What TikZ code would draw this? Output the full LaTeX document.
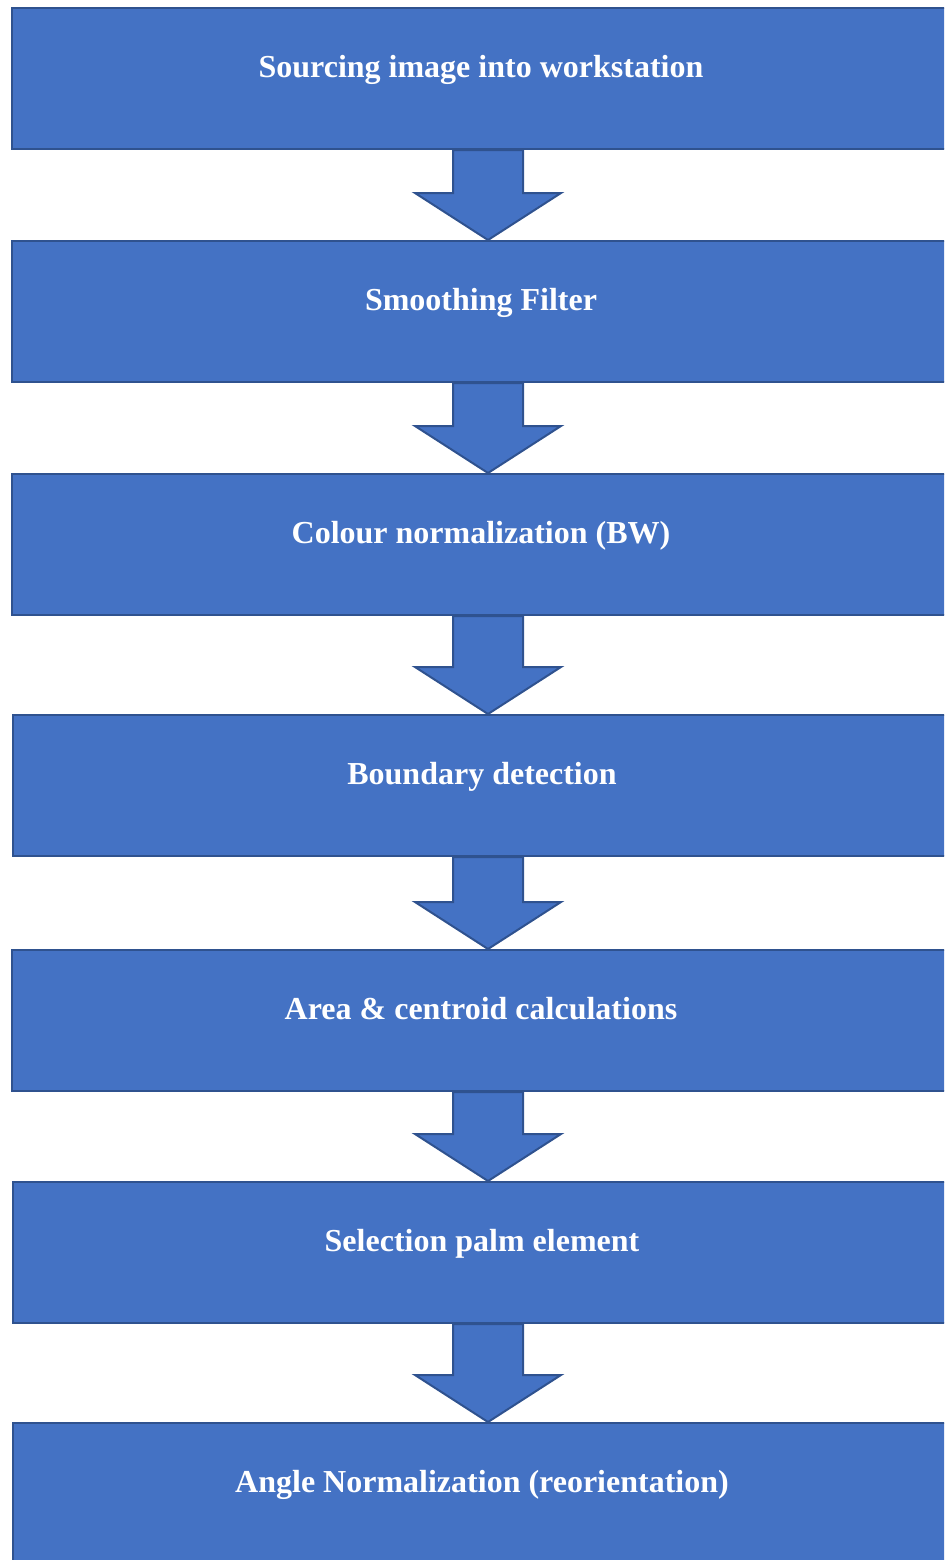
\documentclass[tikz,border=0pt]{standalone}
\usepackage{fontspec}
\setmainfont{Liberation Serif}
\usepackage{tikz}
\usetikzlibrary{calc, backgrounds}
\definecolor{boxblue}{HTML}{4472C4}
\definecolor{edgeblue}{HTML}{2F528F}

\begin{document}
\begin{tikzpicture}[x=0.5pt, y=-0.5pt,
    stage/.style={rectangle, draw=edgeblue, fill=boxblue, line width=1pt,
      minimum width=469pt, minimum height=70.5pt, inner sep=0pt, text=white,
      font=\fontsize{16}{19}\selectfont\bfseries, text height=10pt, text depth=11.5pt},
    blockarrow/.style={draw=edgeblue, fill=boxblue, line width=1pt, line join=miter}]
    \useasboundingbox (0,0) rectangle (944,1560);
    \clip (0,0) rectangle (944,1560);
    \node (source)    at (481,78.5)   [stage] {Sourcing image into workstation};
    \node (smooth)    at (481,311.5)  [stage] {Smoothing Filter};
    \node (colour)    at (481,544.5)  [stage] {Colour normalization (BW)};
    \node (boundary)  at (482,785.5)  [stage] {Boundary detection};
    \node (centroid)  at (481,1020.5) [stage] {Area \& centroid calculations};
    \node (palm)      at (482,1252.5) [stage] {Selection palm element};
    \node (angle)     at (482,1493.5) [stage] {Angle Normalization (reorientation)};
    \coordinate (ax) at (488,0);
    \begin{scope}[on background layer]
    \foreach \from/\to in {source/smooth, smooth/colour, colour/boundary,
        boundary/centroid, centroid/palm, palm/angle}
      \draw[blockarrow] ($(\from.south -| ax)+(-35,0)$) -- ($(\to.north -| ax)+(-35,-47)$)
        -- ++(-38,0) -- (\to.north -| ax) -- ++(73,-47) -- ++(-38,0)
        -- ($(\from.south -| ax)+(35,0)$) -- cycle;
    \end{scope}
\end{tikzpicture}
\end{document}
